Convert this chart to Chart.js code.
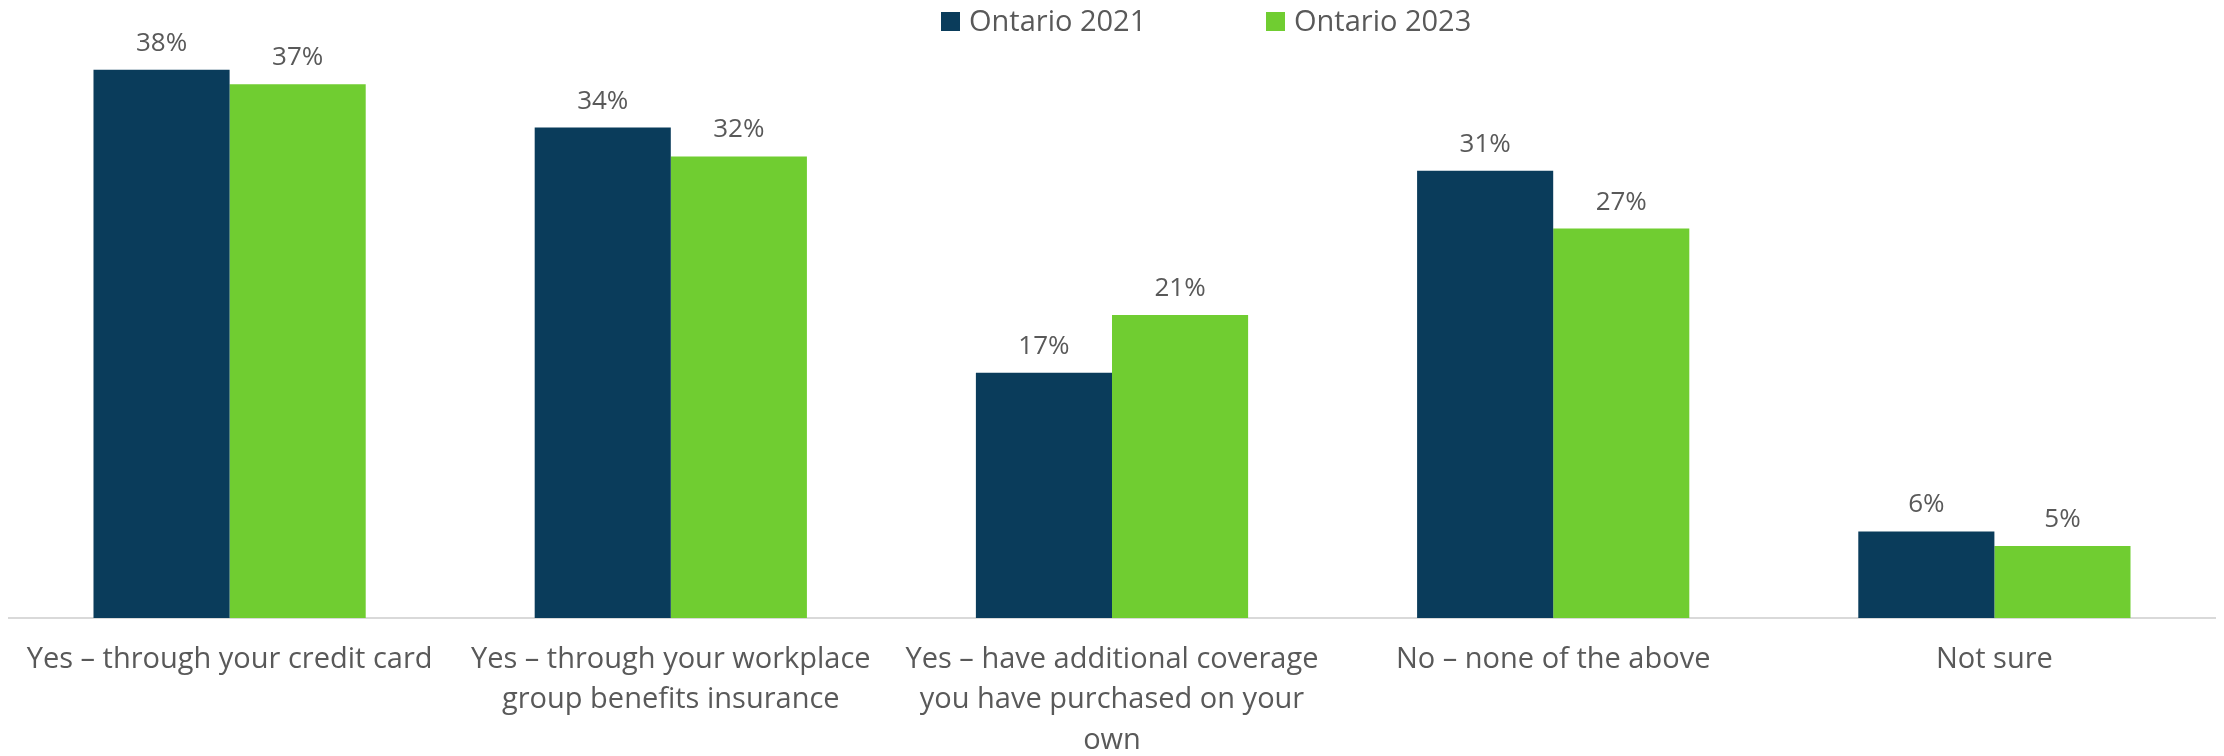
<!DOCTYPE html>
<html>
<head>
<meta charset="utf-8">
<style>
  html, body { margin: 0; padding: 0; background: #ffffff; }
  #wrap { width: 2224px; height: 756px; position: relative; }
</style>
<script src="https://cdn.jsdelivr.net/npm/chart.js@4/dist/chart.umd.min.js"></script>
</head>
<body>
<div id="wrap"><canvas id="chart" width="2224" height="756"></canvas></div>
<script>
// Survey answers and the share of respondents per year
const categories = [
  "Yes – through your credit card",
  ["Yes – through your workplace", "group benefits insurance"],
  ["Yes – have additional coverage", "you have purchased on your", "own"],
  "No – none of the above",
  "Not sure"
];
const seriesNames = ["Ontario 2021", "Ontario 2023"];
const ontario2021 = [38, 34, 17, 31, 6];
const ontario2023 = [37, 32, 21, 27, 5];

const DARK = "#0A3C5B";
const GREEN = "#70CD31";
const TEXT = "#595959";
const FONT = "'Open Sans', 'Noto Sans', sans-serif";

// Percent labels above every bar
const valueLabels = {
  id: "valueLabels",
  afterDatasetsDraw(chart) {
    const ctx = chart.ctx;
    ctx.save();
    ctx.font = "26px " + FONT;
    ctx.fillStyle = TEXT;
    ctx.textAlign = "center";
    ctx.textBaseline = "alphabetic";
    chart.data.datasets.forEach((ds, i) => {
      chart.getDatasetMeta(i).data.forEach((bar, j) => {
        ctx.fillText(ds.data[j] + "%", bar.x, bar.y - 19);
      });
    });
    ctx.restore();
  }
};

// Legend row at the top
const topLegend = {
  id: "topLegend",
  afterDraw(chart) {
    const ctx = chart.ctx;
    ctx.save();
    ctx.font = "29px " + FONT;
    ctx.textBaseline = "alphabetic";
    ctx.textAlign = "left";
    const starts = [941, 1266];
    chart.data.datasets.forEach((ds, i) => {
      const x = starts[i];
      ctx.fillStyle = ds.backgroundColor;
      ctx.fillRect(x, 12, 19, 19);
      ctx.fillStyle = TEXT;
      ctx.fillText(ds.label, x + 28, 31);
    });
    ctx.restore();
  }
};

new Chart(document.getElementById("chart"), {
  type: "bar",
  data: {
    labels: categories,
    datasets: [
      { label: seriesNames[0], data: ontario2021, backgroundColor: DARK },
      { label: seriesNames[1], data: ontario2023, backgroundColor: GREEN }
    ]
  },
  options: {
    responsive: false,
    animation: false,
    devicePixelRatio: 1,
    layout: { padding: { top: 41, left: 9, right: 9, bottom: 0 } },
    datasets: {
      bar: { barPercentage: 1.0, categoryPercentage: 0.617, borderWidth: 0 }
    },
    plugins: {
      legend: { display: false },
      tooltip: { enabled: false }
    },
    scales: {
      x: {
        grid: { display: false, drawTicks: false },
        border: { display: true, color: "#D9D9D9", width: 2 },
        ticks: {
          color: TEXT,
          font: { family: FONT, size: 29, lineHeight: 1.4 },
          padding: 21,
          maxRotation: 0,
          autoSkip: false
        },
        afterFit(scale) { scale.height = 138; }
      },
      y: {
        display: false,
        min: 0,
        max: 40
      }
    }
  },
  plugins: [valueLabels, topLegend]
});
</script>
</body>
</html>
